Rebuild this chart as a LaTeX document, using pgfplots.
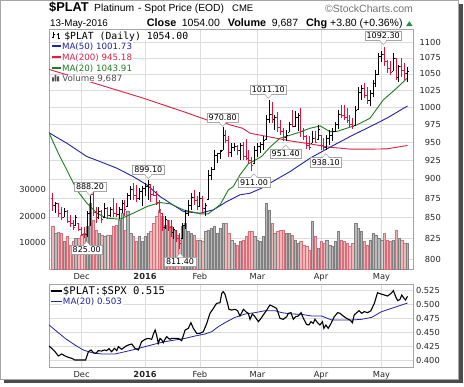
\documentclass[border=0pt]{standalone}
\usepackage{fontspec}
\setmainfont{DejaVu Sans}
\newfontfamily\arial{Liberation Sans}
\newfontfamily\mono{DejaVu Sans Mono}
\usepackage{pgfplots}
\pgfplotsset{compat=1.18}
\usepackage{pgfplotstable}

\definecolor{pred}{RGB}{220,20,60}
\definecolor{mablue}{RGB}{35,35,165}
\definecolor{mared}{RGB}{222,30,70}
\definecolor{magreen}{RGB}{30,125,30}
\definecolor{vpink}{RGB}{242,182,182}
\definecolor{vpinkedge}{RGB}{214,112,124}
\definecolor{vgray}{RGB}{186,186,186}
\definecolor{vgrayedge}{RGB}{128,128,128}
\definecolor{gridc}{RGB}{220,220,220}
\definecolor{framec}{RGB}{165,165,165}
\definecolor{legray}{RGB}{80,80,80}
\definecolor{upgreen}{RGB}{40,140,60}

\newcommand{\tickfont}{\fontsize{8.3}{10}\selectfont}
\newcommand{\callfont}{\fontsize{8}{9}\selectfont}
\newcommand{\legfont}{\fontsize{8.7}{10}\selectfont}

\pgfdeclareplotmark{otick}{\pgfpathmoveto{\pgfpoint{-1.6pt}{0pt}}\pgfpathlineto{\pgfpoint{0pt}{0pt}}\pgfusepathqstroke}
\pgfdeclareplotmark{ctick}{\pgfpathmoveto{\pgfpoint{0pt}{0pt}}\pgfpathlineto{\pgfpoint{1.6pt}{0pt}}\pgfusepathqstroke}

\pgfplotstableread{
i o h l c v
1 865 870 856 868 13590
4 851 862 851 858 10440
8 841 854 841 850 11700
12 829 858 826 855 16100
13 855 888.2 840 880 24910
16 850 864 848 858 13590
18 851 868 851 862 12330
20 853 864 851 860 12960
23 854 864 848 860 18620
24 860 872 856 868 21130
26 864 881 864 878 21760
27 878 890 873 886 13590
30 874 888 873 884 12330
31 884 890 865 887 10440
32 887 894 878 890 12330
33 890 899.1 872 893 13590
39 838 852 836 848 16730
42 832 839 824 836 14840
45 824 843 824 840 16100
46 840 860 836 855 17360
47 855 872 852 866 14220
48 866 881 860 876 13590
51 864 883 864 875 11070
53 862 868 852 865 14220
54 873 912 873 905 14840
55 905 916 899 912 15470
56 912 939 912 932 16100
57 932 935 921 934 13590
58 934 939 926 937 15470
59 939 970.8 939 960 17360
62 935 948 930 942 11070
63 942 948 937 944 9810
65 938 948 925 945 10440
70 921 945 921 938 12330
71 938 948 930 944 11070
72 944 950 935 946 10440
73 946 958 939 952 12330
74 953 988 953 982 24910
75 982 1011.1 977 990 22390
77 982 988 967 985 13590
81 956 967 951.4 960 13590
82 964 979 964 975 13590
84 972 994 971 985 11070
85 985 992 965 988 9810
90 948 965 948 955 17990
92 953 974 953 968 7930
95 942 960 939 955 11070
96 955 967 946 960 9180
97 960 970 952 965 8550
98 965 979 964 975 10440
99 975 996 969 990 14220
105 974 1001 974 995 17360
106 996 1030 996 1022 15470
107 1022 1033 1011 1028 14220
110 1010 1026 1001 1020 11070
111 1020 1041 1015 1035 13590
112 1035 1056 1030 1050 12960
113 1050 1083 1049 1078 11700
114 1078 1086 1068 1080 11070
118 1054 1083 1054 1075 11070
120 1045 1064 1038 1062 11700
123 1050.2 1061 1038 1054 9687
}\up

\pgfplotstableread{
i o h l c v
0 875 881 858 865 16350
2 868 868 851 855 13840
3 855 864 847 850 13590
5 858 860 843 846 12330
6 846 854 839 843 9180
7 843 847 835 838 10440
9 843 843 833 836 11700
10 836 839 827 830 12960
11 830 838 825 829 13590
14 880 886 852 857 18620
15 857 864 844 850 14840
17 858 860 844 848 12960
19 862 864 848 853 12960
21 860 875 851 855 16100
22 855 868 851 854 16730
25 868 872 852 860 14840
28 886 894 873 878 12330
29 878 892 870 874 10440
34 892 892 870 880 14220
35 880 890 878 879 17360
36 879 884 866 870 19880
37 870 872 856 860 22390
38 856 856 834 838 19880
40 847 847 834 838 18620
41 838 847 826 832 16100
43 834 834 820 825 12960
44 825 831 811.4 818 11070
49 876 886 866 872 12960
50 872 877 860 864 11070
52 875 877 856 862 10440
60 960 967 949 952 17360
61 952 958 930 935 13590
64 944 946 932 938 9180
66 945 950 925 930 11070
67 930 954 925 928 12330
68 928 939 921 925 14220
69 925 930 911 918 14220
76 990 1008 977 982 17360
78 985 993 964 970 14220
79 970 981 960 965 14840
80 965 970 952 956 14840
83 975 996 971 972 12960
86 988 998 957 965 10440
87 965 970 953 958 9180
88 958 960 941 945 8550
89 945 958 939 942 7300
91 955 965 948 950 12330
93 960 960 939 945 10440
94 945 955 938.1 942 9810
100 990 1003 984 988 11070
101 988 1003 981 985 10440
102 985 998 977 980 9810
103 980 988 971 975 8550
104 975 984 969 972 9810
108 1028 1036 1013 1018 10440
109 1018 1030 1005 1010 9180
115 1080 1092.3 1062 1070 13590
116 1070 1072 1051 1058 11070
117 1058 1070 1049 1052 10440
119 1075 1075 1041 1045 14840
121 1062 1075 1045 1056 11070
122 1056 1067 1041 1050.2 9810
}\down

\tikzset{
  callbox/.style={draw=framec, fill=white, line width=0.5pt, inner xsep=1.8pt, inner ysep=0pt,
    minimum height=9.4pt, font=\callfont, text height=5.8pt, text depth=0pt},
  legnode/.style={anchor=west, inner sep=0.6pt, fill=white, text depth=0pt},
  hdr/.style={anchor=base west, inner sep=0pt, text height=7.2pt, text depth=0pt}
}
% box above, pointer down
\newcommand{\callA}[3]{%
  \node[callbox] at (#1,#2) {#3};
  \fill[white] ({#1-3.2},{#2-4.2}) -- (#1,{#2-8.6}) -- ({#1+3.2},{#2-4.2}) -- cycle;
  \draw[framec, line width=0.5pt] ({#1-3.6},{#2-4.7}) -- (#1,{#2-8.6}) -- ({#1+3.6},{#2-4.7});
}
% box below, pointer up
\newcommand{\callB}[3]{%
  \node[callbox] at (#1,#2) {#3};
  \fill[white] ({#1-3.2},{#2+4.2}) -- (#1,{#2+8.6}) -- ({#1+3.2},{#2+4.2}) -- cycle;
  \draw[framec, line width=0.5pt] ({#1-3.6},{#2+4.7}) -- (#1,{#2+8.6}) -- ({#1+3.6},{#2+4.7});
}

\begin{document}
\begin{tikzpicture}
\begin{scope}[x=1pt,y=1pt]
\useasboundingbox (0,0) rectangle (464,387);
% outer frame and shadow
\fill[black!70] (4,4) rectangle (462.5,383);
\fill[white] (0.5,7.5) rectangle (458.5,386.5);
\draw[black!35, line width=0.6pt] (0.5,7.5) rectangle (458.5,386.5);

% header
\node[hdr, text height=9.2pt, font=\arial\bfseries\fontsize{12.8}{14}\selectfont] at (49,375.3) {\$PLAT};
\node[hdr, font=\arial\fontsize{10.3}{12}\selectfont] at (94,375.4) {Platinum};
\node[hdr, font=\arial\fontsize{10.3}{12}\selectfont] at (138,375.4) {- Spot Price (EOD)};
\node[hdr, font=\arial\fontsize{9.5}{11}\selectfont] at (232,375.4) {CME};
\node[hdr, font=\arial\fontsize{10.5}{12}\selectfont, text=black!55] at (325,374.8) {©StockCharts.com};
\node[hdr, font=\arial\fontsize{9.8}{12}\selectfont] at (50,360.8) {13-May-2016};
\node[hdr, font=\arial\bfseries\fontsize{10.8}{12}\selectfont] at (146.7,360.8) {Close};
\node[hdr, font=\arial\fontsize{10.5}{12}\selectfont] at (181.7,360.8) {1054.00};
\node[hdr, font=\arial\bfseries\fontsize{10.8}{12}\selectfont] at (227.7,360.8) {Volume};
\node[hdr, font=\arial\fontsize{10.5}{12}\selectfont] at (271.7,360.8) {9,687};
\node[hdr, font=\arial\bfseries\fontsize{10.8}{12}\selectfont] at (306,360.8) {Chg};
\node[hdr, font=\arial\fontsize{10.5}{12}\selectfont] at (330,360.8) {+3.80 (+0.36\%)};
\fill[upgreen] (406,360.8) -- (412.7,360.8) -- (409.35,365.8) -- cycle;
\end{scope}

% ---- main panel: grid and labels
\begin{axis}[at={(49pt,117.7pt)}, anchor=south west, scale only axis,
  width=364pt, height=239.8pt,
  xmin=-1.3, xmax=124.9, ymode=log, ymin=788.2, ymax=1120.9,
  xtick={10,32,51,71,93,114}, xticklabels={Dec,\textbf{2016},Feb,Mar,Apr,May},
  ytick={800,825,850,875,900,925,950,975,1000,1025,1050,1075,1100},
  yticklabels={800,825,850,875,900,925,950,975,1000,1025,1050,1075,1100},
  yticklabel pos=right,
  grid=major, major grid style={gridc, line width=0.6pt},
  axis line style={framec, line width=0.8pt},
  major tick length=0pt,
  tick label style={font=\tickfont, text=black!85},
  yticklabel style={anchor=east, inner sep=0pt, xshift=28pt},
  xticklabel style={anchor=base, inner sep=0pt, yshift=-10.6pt},
]
\addplot[draw=none] coordinates {(0,900) (10,950)};
\end{axis}

% ---- volume
\begin{axis}[at={(49pt,117.7pt)}, anchor=south west, scale only axis,
  width=364pt, height=239.8pt,
  xmin=-1.3, xmax=124.9, ymin=0, ymax=90500,
  axis line style={draw=none}, xtick=\empty,
  scaled y ticks=false,
  ytick={10000,20000,30000}, yticklabels={10000,20000,30000},
  major tick length=0pt,
  tick label style={font=\tickfont, text=black!85},
  yticklabel style={anchor=east, inner sep=0pt, xshift=-3pt},
]
\addplot[ybar, bar width=2.3pt, bar shift=0pt, fill=vpink, draw=vpinkedge, line width=0.4pt] table[x=i,y=v]{\down};
\addplot[ybar, bar width=2.3pt, bar shift=0pt, fill=vgray, draw=vgrayedge, line width=0.4pt] table[x=i,y=v]{\up};
\end{axis}

% ---- prices
\begin{axis}[at={(49pt,117.7pt)}, anchor=south west, scale only axis,
  width=364pt, height=239.8pt,
  xmin=-1.3, xmax=124.9, ymode=log, ymin=788.2, ymax=1120.9,
  axis lines=none, xtick=\empty, ytick=\empty,
]
\addplot[mared, line width=0.9pt] coordinates {(-1.3,1057) (15.3,1034.6) (31.4,1013.2) (45.3,993.4) (53.4,981.4) (58.6,979) (61.5,974.2) (65.8,969.4) (68.4,962.4) (75.3,957) (82.3,951.6) (89.2,947.4) (96.1,942.8) (103.1,940.1) (110,940.1) (115.8,940.5) (123,945.2)};
\addplot[mablue, line width=0.9pt] coordinates {(-1.3,963) (4.85,948.4) (11.8,930) (16.4,923.1) (22.2,914.2) (27.9,903) (32.6,892.1) (37.2,876.9) (40.7,868.5) (45.3,857.8) (51.1,855.7) (55.7,859.9) (60.3,870.4) (64.9,879.1) (68.4,881.2) (72.4,887.7) (75.3,894.3) (82.3,909.7) (89.2,927.7) (96.1,942.8) (103.1,957.7) (110,971.7) (115.8,983.8) (123,1001.7)};
\addplot[magreen, line width=0.9pt] coordinates {(-1.3,963) (1.9,934.6) (4.85,911.9) (8.3,885.5) (11.8,868.5) (15.3,855.7) (18.7,849.5) (23.3,848.2) (27.9,855.7) (32.6,864) (37.2,869.2) (40.7,867.6) (45.3,859.9) (51.1,854.9) (53.9,854.9) (58,866.3) (60.9,885.5) (62.6,889.9) (64.9,905.2) (67.8,920) (72.4,930) (75.3,942.8) (78.8,955.4) (84.6,962.4) (89.2,969.4) (92.7,972.7) (96.1,964.7) (98.4,964.7) (101.9,969.4) (105.4,974.2) (110,983.8) (114.6,1010.7) (119.2,1028.1) (123,1043.9)};
% down bars (red)
\addplot[pred, only marks, mark=ctick, mark options={line width=0.8pt},
  error bars/.cd, y dir=both, y explicit, error mark=none, error bar style={pred, line width=0.8pt}]
  table[x=i, y=c, y error plus expr=\thisrow{h}-\thisrow{c}, y error minus expr=\thisrow{c}-\thisrow{l}]{\down};
\addplot[pred, only marks, mark=otick, mark options={line width=0.8pt}] table[x=i, y=o]{\down};
% up bars (black)
\addplot[black, only marks, mark=ctick, mark options={line width=0.8pt},
  error bars/.cd, y dir=both, y explicit, error mark=none, error bar style={black, line width=0.8pt}]
  table[x=i, y=c, y error plus expr=\thisrow{h}-\thisrow{c}, y error minus expr=\thisrow{c}-\thisrow{l}]{\up};
\addplot[black, only marks, mark=otick, mark options={line width=0.8pt}] table[x=i, y=o]{\up};
\end{axis}

% ---- lower panel
\begin{axis}[at={(49pt,19.3pt)}, anchor=south west, scale only axis,
  width=364pt, height=83.7pt,
  xmin=-1.3, xmax=124.9, ymin=0.3875, ymax=0.537,
  xtick={10,32,51,71,93,114}, xticklabels={Dec,\textbf{2016},Feb,Mar,Apr,May},
  ytick={0.4,0.425,0.45,0.475,0.5,0.525},
  yticklabels={0.400,0.425,0.450,0.475,0.500,0.525},
  scaled y ticks=false,
  yticklabel pos=right,
  grid=major, major grid style={gridc, line width=0.6pt},
  axis line style={framec, line width=0.8pt},
  major tick length=0pt,
  tick label style={font=\tickfont, text=black!85},
  yticklabel style={anchor=east, inner sep=0pt, xshift=27pt},
  xticklabel style={anchor=base, inner sep=0pt, yshift=-9.6pt},
]
\addplot[mablue, line width=0.8pt] coordinates {(-1.3,0.4640) (0.8,0.4548) (4.3,0.4399) (7.7,0.4280) (10.6,0.4191) (13.5,0.4143) (17.0,0.4120) (21.6,0.4120) (25.1,0.4161) (28.5,0.4203) (32.0,0.4251) (35.5,0.4298) (38.9,0.4340) (42.4,0.4370) (45.9,0.4399) (49.3,0.4441) (52.8,0.4477) (55.1,0.4518) (57.4,0.4608) (59.7,0.4679) (63.2,0.4774) (66.7,0.4834) (70.1,0.4858) (73.6,0.4893) (77.05,0.4893) (79.4,0.4858) (82.8,0.4834) (86.3,0.4828) (89.8,0.4798) (93.2,0.4798) (96.7,0.4727) (100.2,0.4727) (103.6,0.4727) (107.1,0.4739) (110.6,0.4774) (114.0,0.4876) (117.5,0.4935) (121.0,0.4995) (123.0,0.5030)};
\addplot[black, line width=1.1pt] coordinates {(-1.3,0.4262) (-0.36,0.4221) (0.8,0.4161) (1.95,0.4084) (3.1,0.4120) (4.3,0.4084) (5.4,0.4060) (6.6,0.4042) (7.7,0.4012) (8.9,0.4012) (10.0,0.4012) (11.4,0.4012) (12.35,0.4161) (13.3,0.4191) (14.1,0.4143) (14.9,0.4131) (15.8,0.4179) (17.0,0.4173) (17.9,0.4191) (18.7,0.4179) (19.5,0.4215) (20.4,0.4161) (21.4,0.4221) (22.2,0.4179) (22.75,0.4251) (23.9,0.4203) (25.1,0.4251) (26.2,0.4280) (27.4,0.4298) (28.5,0.4221) (29.7,0.4191) (30.8,0.4340) (32.0,0.4382) (33.15,0.4399) (34.3,0.4382) (34.9,0.4477) (35.5,0.4548) (36.0,0.4459) (36.6,0.4310) (37.2,0.4399) (37.8,0.4370) (38.3,0.4322) (38.9,0.4382) (39.5,0.4429) (40.1,0.4399) (40.7,0.4382) (41.2,0.4399) (42.4,0.4399) (43.5,0.4399) (44.7,0.4358) (45.9,0.4548) (47.0,0.4578) (47.9,0.4679) (48.75,0.4578) (49.9,0.4489) (51.0,0.4489) (52.2,0.4518) (53.4,0.4667) (54.5,0.4846) (55.7,0.4935) (56.8,0.5024) (58.0,0.5036) (58.6,0.5203) (59.1,0.5233) (59.7,0.5190) (60.4,0.5060) (61.1,0.4917) (62.0,0.4905) (63.2,0.4917) (64.1,0.4893) (64.9,0.4798) (66.1,0.4917) (66.9,0.4876) (67.8,0.4846) (68.4,0.4739) (69.2,0.4834) (70.1,0.4786) (71.3,0.4697) (72.2,0.4756) (73.0,0.4816) (74.2,0.4905) (75.3,0.4995) (76.5,0.4965) (77.6,0.4935) (78.8,0.4756) (79.9,0.4739) (81.1,0.4786) (81.7,0.4846) (82.6,0.4858) (83.4,0.4739) (84.2,0.4786) (85.1,0.4798) (86.1,0.4858) (86.9,0.4756) (88.0,0.4649) (88.8,0.4637) (89.5,0.4697) (90.3,0.4667) (90.9,0.4739) (91.8,0.4679) (92.6,0.4637) (93.5,0.4697) (94.0,0.4578) (94.7,0.4637) (95.5,0.4578) (96.5,0.4667) (97.6,0.4786) (98.8,0.4858) (99.6,0.4846) (100.7,0.4798) (101.9,0.4756) (103.0,0.4727) (103.9,0.4679) (104.5,0.4816) (105.4,0.4858) (106.2,0.4893) (107.1,0.4846) (108.0,0.4876) (109.2,0.4858) (110.3,0.4893) (111.5,0.5024) (112.6,0.5215) (113.8,0.5191) (115.0,0.5173) (116.1,0.5155) (117.3,0.5203) (118.1,0.5251) (118.9,0.5143) (119.6,0.5072) (120.4,0.5096) (121.0,0.5173) (121.8,0.5114) (122.3,0.5084) (123.0,0.5150)};
\end{axis}

\begin{scope}[x=1pt,y=1pt]
% ---- main legend
\draw[black, line width=0.7pt] (53.5,348.5) -- (53.5,354.5) (52,350) -- (53.5,350) (53.5,353) -- (55,353);
\draw[black, line width=0.7pt] (58,347.5) -- (58,353.5) (56.5,352.5) -- (58,352.5) (58,349) -- (59.5,349);
\node[legnode, font=\mono\fontsize{9.8}{11}\selectfont] at (63.5,351.5) {\$PLAT (Daily) 1054.00};
\draw[mablue, line width=1.6pt] (52,341) -- (61,341);
\node[legnode, font=\legfont, text=mablue] at (61.2,341) {MA(50) 1001.73};
\draw[mared, line width=1.6pt] (52,330) -- (61,330);
\node[legnode, font=\legfont, text=mared] at (61.2,330) {MA(200) 945.18};
\draw[magreen, line width=1.6pt] (52,319) -- (61,319);
\node[legnode, font=\legfont, text=magreen] at (61.2,319) {MA(20) 1043.91};
\fill[legray] (52,305.5) rectangle (53.8,309.5) (54.6,305.5) rectangle (56.4,312) (57.2,305.5) rectangle (59,310.5);
\node[legnode, font=\legfont, text=legray] at (61.5,308.5) {Volume 9,687};

% ---- lower legend
\draw[black, line width=1.8pt] (51,96.3) -- (62,96.3);
\node[legnode, font=\mono\fontsize{10.6}{12}\selectfont] at (62.2,96.3) {\$PLAT:\$SPX 0.515};
\draw[mablue, line width=1.6pt] (51,85.3) -- (62,85.3);
\node[legnode, font=\legfont, text=mablue] at (62.2,85.3) {MA(20) 0.503};

% ---- callouts
\callA{90}{200}{888.20}
\callB{86.7}{137}{825.00}
\callA{148.3}{217}{899.10}
\callB{180}{125.3}{811.40}
\callA{222.7}{269.3}{970.80}
\callA{268.3}{297.3}{1011.10}
\callB{254}{204.7}{911.00}
\callB{285.7}{233.5}{951.40}
\callB{325.8}{224.7}{938.10}
\callA{383.2}{351}{1092.30}
\end{scope}
\end{tikzpicture}
\end{document}
